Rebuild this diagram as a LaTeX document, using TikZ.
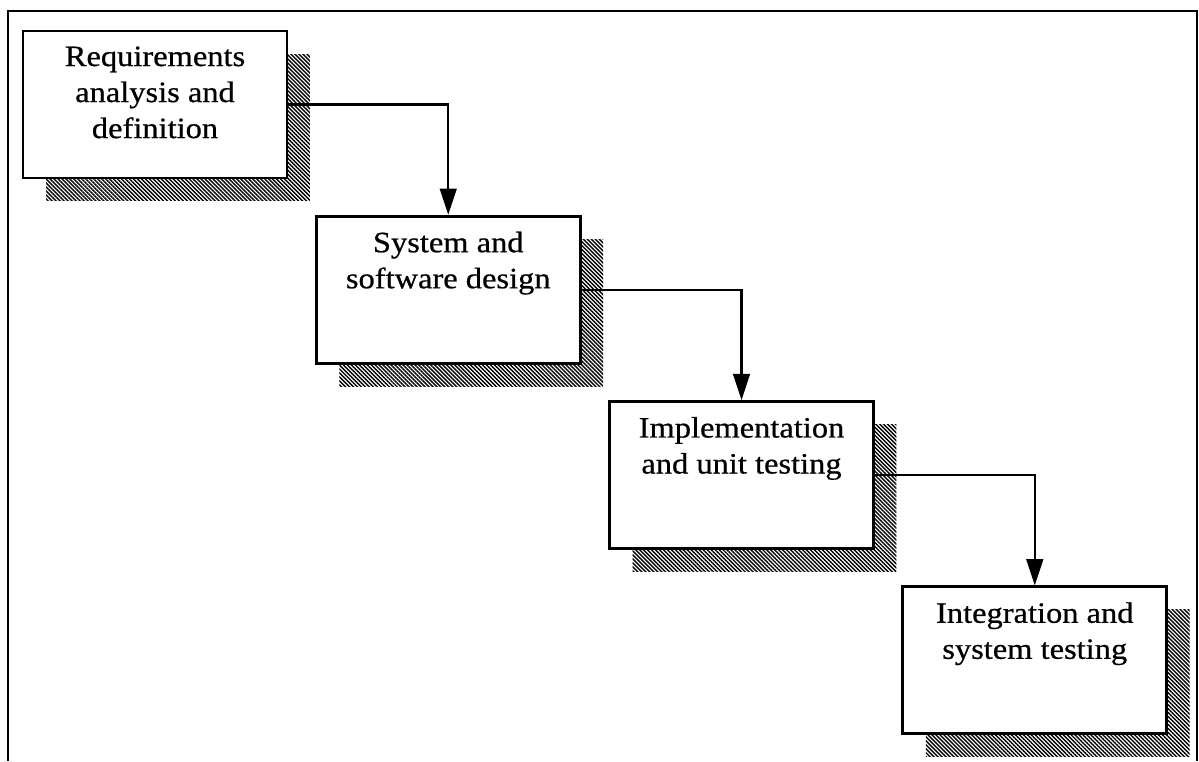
\documentclass[tikz,border=0pt]{standalone}
\usepackage{fontspec}
\setmainfont{Liberation Serif}[FakeStretch=1.1,FakeBold=0.6]
\usetikzlibrary{positioning,shadows,patterns.meta,arrows.meta}
\begin{document}
\begin{tikzpicture}[x=0.02cm,y=-0.02cm]
    \tikzset{stage/.style={draw,fill=white,line width=1.6pt,minimum width=5.28cm,minimum height=2.94cm,
            general shadow={shadow xshift=0.46cm,shadow yshift=-0.46cm,
                pattern={Lines[angle=-45,distance=1.6pt,line width=0.8pt]}}},
        stagetext/.style={anchor=north,align=center,inner sep=0pt,yshift=-0.33cm,
            font=\fontsize{16.8pt}{20.5pt}\selectfont},
        flow/.style={line width=1.4pt,-{Triangle[length=15pt,width=9.5pt]}},
        node distance=0.71cm and 0.53cm}
    \useasboundingbox (0,0) rectangle (1199,761);
    \draw[line width=1.3pt] (8,761) -- (8,11) -- (1197,11) -- (1197,761);
    \node[stage] (req) at (155,104.5) {};
    \node[stage,below right=of req] (des) {};
    \node[stage,below right=of des] (imp) {};
    \node[stage,below right=of imp] (integ) {};
    \node[stagetext] (reqtxt) at (req.north) {Requirements\\analysis and\\definition};
    \node[stagetext] (destxt) at (des.north) {System and\\software design};
    \node[stagetext] (imptxt) at (imp.north) {Implementation\\and unit testing};
    \node[stagetext] (integtxt) at (integ.north) {Integration and\\system testing};
    \draw[flow] (req.east) -| (des.north);
    \draw[flow] (des.east) -| (imp.north);
    \draw[flow] (imp.east) -| (integ.north);
\end{tikzpicture}
\end{document}
